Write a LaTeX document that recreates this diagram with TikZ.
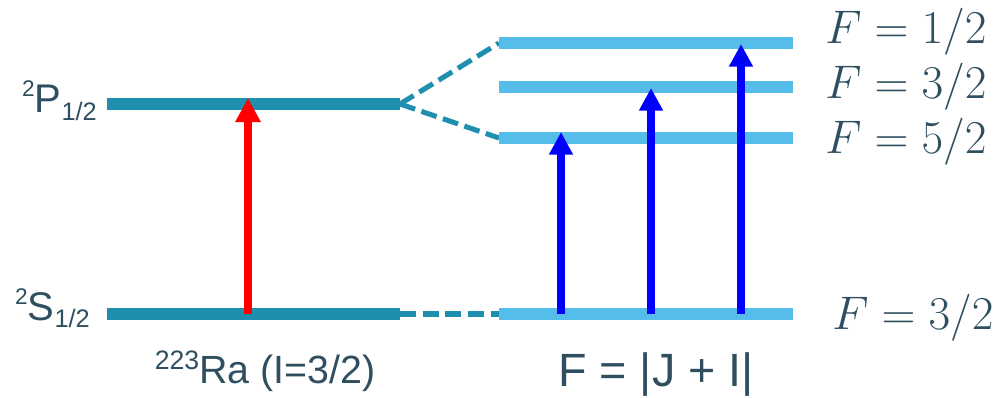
\documentclass[tikz,border=0pt]{standalone}
\usepackage{fontspec}
\setmainfont{Liberation Sans}
\usetikzlibrary{arrows.meta}
\definecolor{lvdark}{RGB}{31,143,175}
\definecolor{lvlight}{RGB}{85,189,234}
\definecolor{txtc}{RGB}{47,79,96}
\newcommand\fs[1]{\fontsize{#1}{#1}\selectfont}
\begin{document}
\begin{tikzpicture}[x=0.75pt,y=-0.75pt,
  darklvl/.style={draw=lvdark,line width=9pt},
  lightlvl/.style={draw=lvlight,line width=9pt},
  dashlink/.style={draw=lvdark,line width=3.8pt,dash pattern=on 12pt off 5pt},
  redarr/.style={draw=red,line width=6pt,-{Triangle[width=18pt,length=18pt]}},
  bluearr/.style={draw=blue,line width=5.5pt,-{Triangle[width=17pt,length=17pt]}},
  lbl/.style={text=txtc,inner sep=0pt},
  mlbl/.style={text=txtc,inner sep=0pt,anchor=base west,font=\fs{24.88},scale=1.42}]
\useasboundingbox (0,0) rectangle (1005,397);
% level end points
\coordinate (pL) at (107,104); \coordinate (pR) at (400,104);
\coordinate (sL) at (107,314); \coordinate (sR) at (400,314);
\coordinate (f1L) at (499,43);  \coordinate (f1R) at (793,43);
\coordinate (f3L) at (499,87);  \coordinate (f3R) at (793,87);
\coordinate (f5L) at (499,138); \coordinate (f5R) at (793,138);
\coordinate (gL) at (499,314);  \coordinate (gR) at (793,314);
% arrow ends
\coordinate (ra0) at (248,314); \coordinate (ra1) at (248,98);
\coordinate (b10) at (561,314); \coordinate (b11) at (561,132);
\coordinate (b20) at (651,314); \coordinate (b21) at (651,88);
\coordinate (b30) at (741,314); \coordinate (b31) at (741,44);
% dashed links
\draw[dashlink] (pR) -- (f1L);
\draw[dashlink] (pR) -- (f5L);
\draw[dashlink] (sR) -- (gL);
% levels
\draw[darklvl] (pL) -- (pR);
\draw[darklvl] (sL) -- (sR);
\draw[lightlvl] (f1L) -- (f1R);
\draw[lightlvl] (f3L) -- (f3R);
\draw[lightlvl] (f5L) -- (f5R);
\draw[lightlvl] (gL) -- (gR);
% arrows
\draw[redarr] (ra0) -- (ra1);
\draw[bluearr] (b10) -- (b11);
\draw[bluearr] (b20) -- (b21);
\draw[bluearr] (b30) -- (b31);
% labels
\node[lbl,anchor=base east,font=\fs{30}] (lp) at (97,112)
  {\raisebox{12pt}{\fs{17}2}P\raisebox{-6.5pt}{\fs{19}1/2}};
\node[lbl,anchor=base east,font=\fs{30}] (ls) at (90,320)
  {\raisebox{12pt}{\fs{17}2}S\raisebox{-5.5pt}{\fs{19}1/2}};
\node[lbl,anchor=base,font=\fs{29.5}] (lra) at (265,383)
  {\raisebox{10.5pt}{\fs{20}223}Ra (I=3/2)};
\node[lbl,anchor=base,font=\fs{35}] (lf) at (656,386) {F = |J + I|};
\node[mlbl] (m1) at (825,43) {$F=1/2$};
\node[mlbl] (m3) at (825,98) {$F=3/2$};
\node[mlbl] (m5) at (825,153) {$F=5/2$};
\node[mlbl] (mg) at (832,329) {$F=3/2$};
\end{tikzpicture}
\end{document}
